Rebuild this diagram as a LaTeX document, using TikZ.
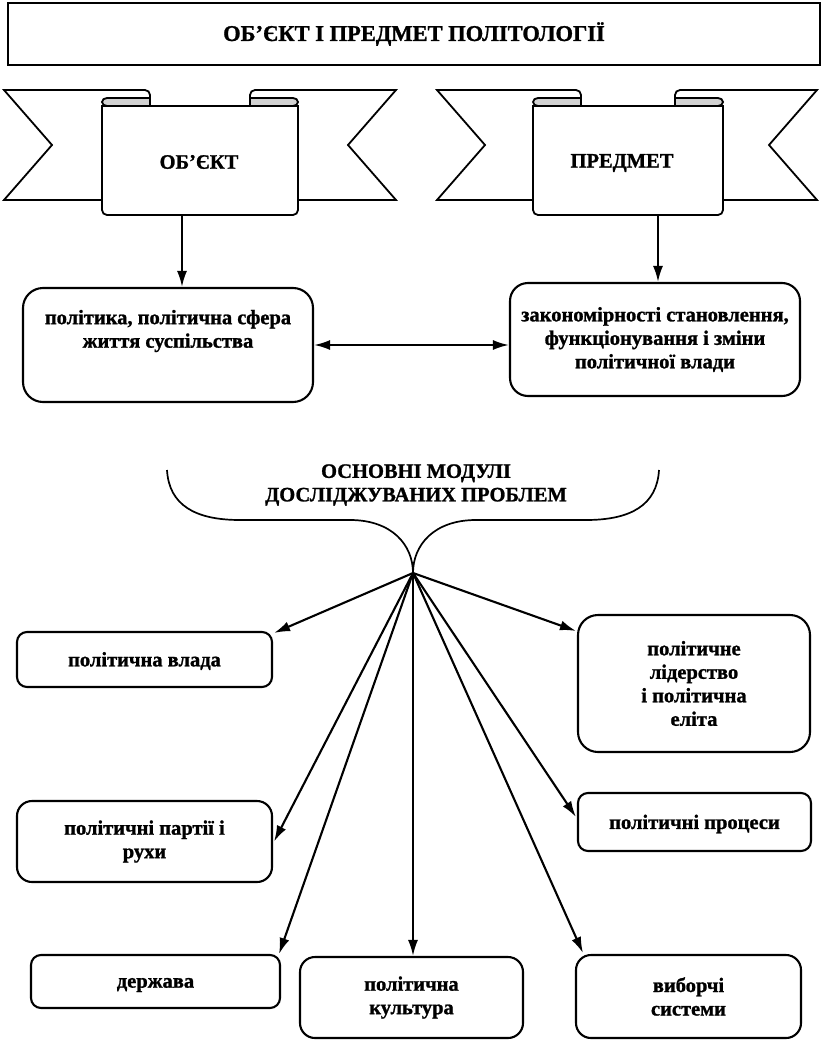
\documentclass[tikz,border=0pt]{standalone}
\usepackage{fontspec}
\setmainfont{Liberation Serif}[BoldFeatures={FakeBold=1.2}]
\usetikzlibrary{arrows.meta,calc}
% ribbon banner: #1 outer left, #2 panel left, #3 panel right, #4 outer right
\newcommand\myribbon[4]{%
  \draw[rib,fill=white] (#1,90) -- ({#2+48-5},90) arc[start angle=90,end angle=0,radius=5pt]
     -- ({#2+48},200) -- (#1,200) -- ({#1+48},145) -- cycle;
  \draw[rib,fill=white] ({#3-48},200) -- ({#3-48},95) arc[start angle=180,end angle=90,radius=5pt]
     -- (#4,90) -- ({#4-48},145) -- (#4,200) -- cycle;
  \draw[rib,fill=white] (#2,106) {[rounded corners=5pt] -- (#2,215) -- (#3,215)} -- (#3,106) -- cycle;
  \draw[rib,fill=gray!35] ({#2+48},98) -- ({#2+5},98)
     arc[start angle=90,end angle=270,x radius=5pt,y radius=4pt] -- ({#2+48},106) -- cycle;
  \draw[rib,fill=gray!35] ({#3-48},98) -- ({#3-5},98)
     arc[start angle=90,end angle=-90,x radius=5pt,y radius=4pt] -- ({#3-48},106) -- cycle;
}
\begin{document}
\begin{tikzpicture}[x=1pt,y=-1pt,
  every node/.style={font=\fontsize{20.5}{23.5}\selectfont\bfseries, align=center, inner sep=0pt},
  box/.style={draw, line width=2.1pt, fill=white},
  rib/.style={line width=1.8pt},
  arr/.style={line width=2.1pt, -{Latex[length=16pt,width=10pt]}},
  darr/.style={line width=2.1pt, {Latex[length=16pt,width=10pt]}-{Latex[length=16pt,width=10pt]}},
  brace/.style={line width=1.7pt}
]
\useasboundingbox (0,0) rectangle (824,1041);

% title
\node[box, line width=2.4pt, minimum width=812pt, minimum height=62pt,
  font=\fontsize{22.5}{26}\selectfont\bfseries] (title) at (414,34) {ОБ’ЄКТ І ПРЕДМЕТ ПОЛІТОЛОГІЇ};

% banners
\myribbon{4}{102}{298}{396}
\node (obj) at (199,162) {ОБ’ЄКТ};
\myribbon{437}{533}{723}{817}
\node (pred) at (622,163) {ПРЕДМЕТ};
\coordinate (objb) at (182,215);
\coordinate (predb) at (658,215);

% upper boxes
\node[box, rounded corners=20pt, minimum width=290pt, minimum height=114pt] (box1) at (168,345) {};
\node (box1t) at (168,331) {політика, політична сфера\\життя суспільства};
\node[box, rounded corners=18pt, minimum width=290pt, minimum height=113pt] (box2) at (655,339.5)
  {закономірності становлення,\\функціонування і зміни\\політичної влади};

\draw[arr] (objb) -- (objb |- box1.north);
\draw[arr] (predb) -- (predb |- box2.north);
\draw[darr] (box1.east) -- (box1.east -| box2.west);

% brace
\draw[brace] (167,470) .. controls (169,505) and (195,520) .. (240,520) -- (350,520)
  .. controls (392,520) and (413,545) .. (413,573)
  .. controls (413,545) and (434,520) .. (476,520) -- (586,520)
  .. controls (631,520) and (657,505) .. (659,470);
\coordinate (hub) at (413,573);
\node (mod) at (416,485) {ОСНОВНІ МОДУЛІ\\ДОСЛІДЖУВАНИХ ПРОБЛЕМ};

% module boxes
\node[box, rounded corners=10pt, minimum width=255pt, minimum height=55pt] (vlada) at (144.5,659.5) {};
\node (vladat) at (144.5,661) {політична влада};
\node[box, rounded corners=20pt, minimum width=232pt, minimum height=137pt] (lid) at (694,683.5)
  {політичне\\лідерство\\ і політична\\еліта};
\node[box, rounded corners=15pt, minimum width=255pt, minimum height=81pt] (partii) at (144.5,841.5)
  {політичні партії і\\рухи};
\node[box, rounded corners=10pt, minimum width=233pt, minimum height=58pt] (proc) at (694.5,822) {};
\node (proct) at (694.5,824) {політичні процеси};
\node[box, rounded corners=10pt, minimum width=249pt, minimum height=53pt] (derzh) at (155.5,981.5) {};
\node (derzht) at (155.5,985) {держава};
\node[box, rounded corners=15pt, minimum width=223pt, minimum height=81pt] (kult) at (411.5,997.5)
  {політична\\культура};
\node[box, rounded corners=15pt, minimum width=225pt, minimum height=83pt] (vyb) at (688.5,996.5)
  {виборчі\\системи};

% arrows from hub
\draw[arr] (hub) -- ($(vlada.north east)+(1,2)$);
\draw[arr] (hub) -- ($(lid.north west)+(-1,17)$);
\draw[arr] (hub) -- ($(proc.west)+(-1,-5)$);
\draw[arr] (hub) -- ($(partii.east)+(1,0)$);
\draw[arr] (hub) -- ($(derzh.north east)+(-2,0)$);
\draw[arr] (hub) -- (hub |- kult.north);
\draw[arr] (hub) -- ($(vyb.north west)+(8,-1)$);
\end{tikzpicture}
\end{document}
